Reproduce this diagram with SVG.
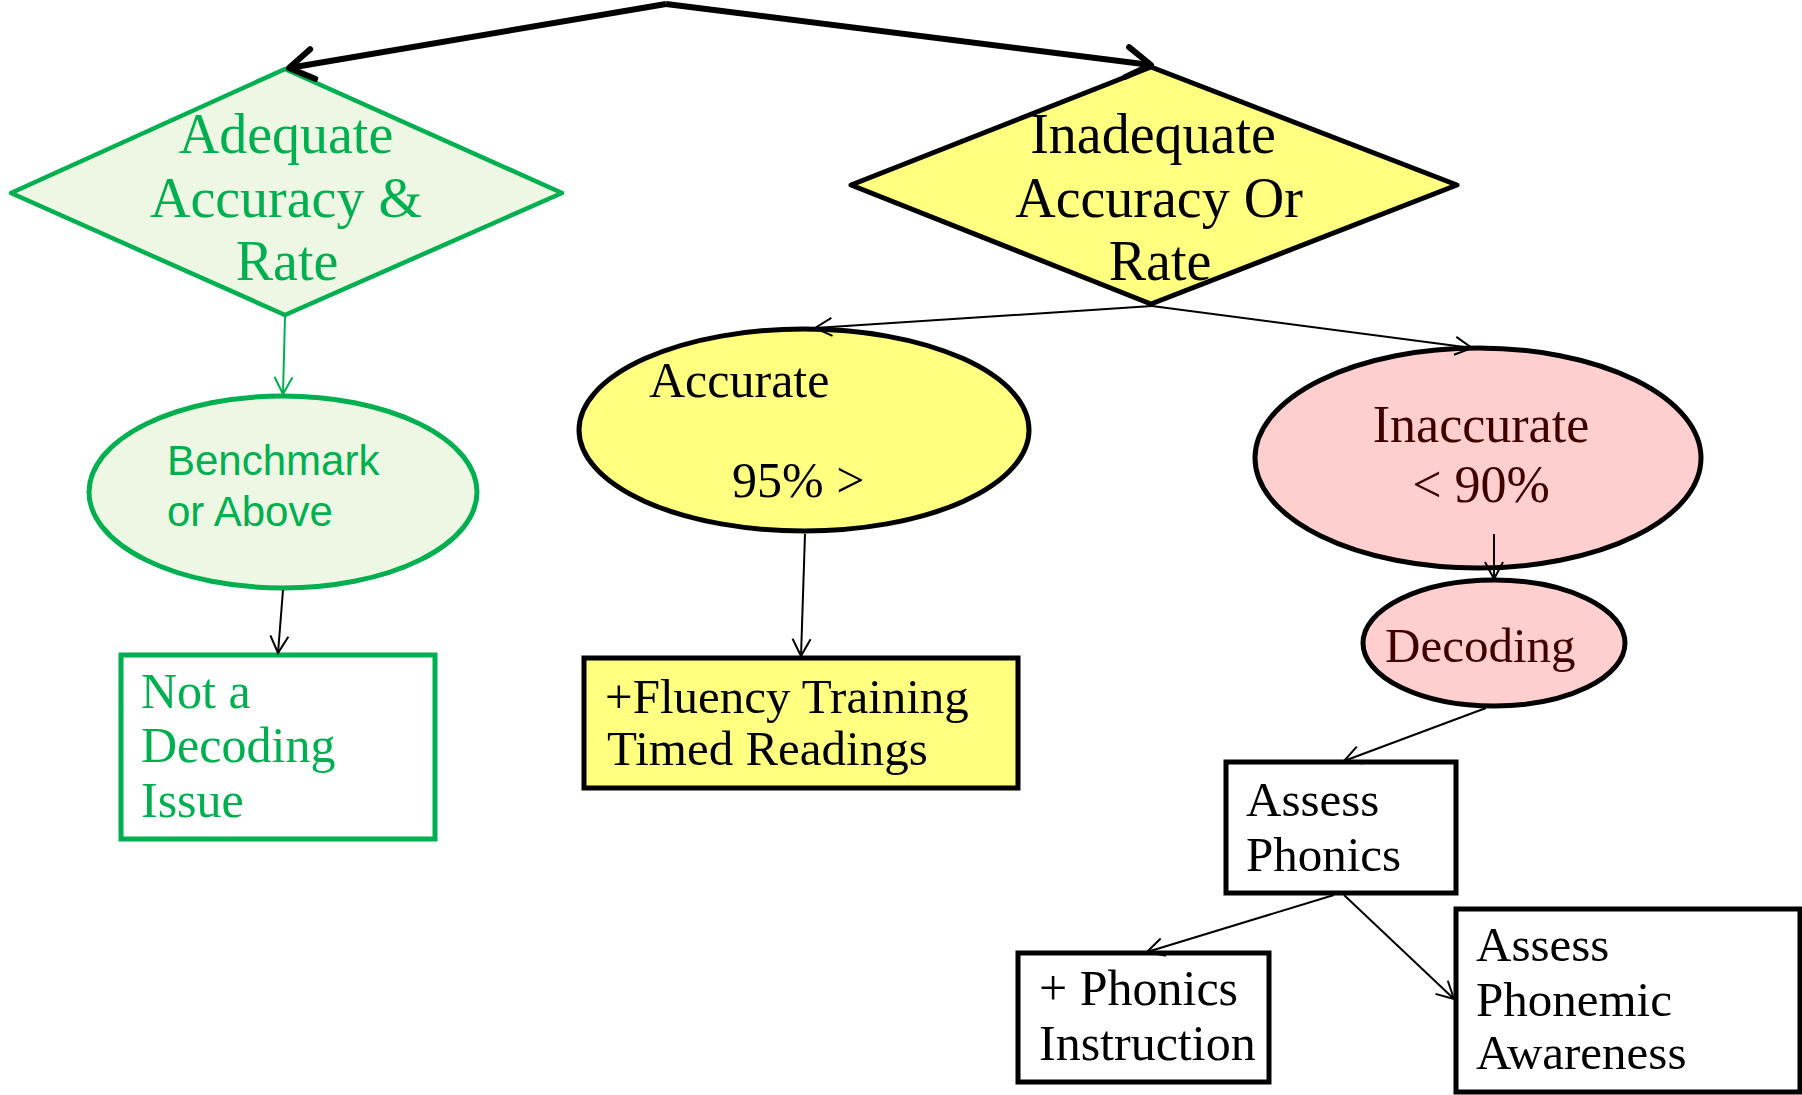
<svg xmlns="http://www.w3.org/2000/svg" width="1802" height="1095" viewBox="0 0 1802 1095">
<style>
.serif{font-family:"Liberation Serif","Times New Roman",serif;}
.sans{font-family:"Liberation Sans",Arial,sans-serif;}
.green{fill:#00B050;}
.blk{fill:#000;}
.maroon{fill:#3F0000;}
.conn{fill:none;stroke:#000;stroke-width:2;}
</style>
<defs>
<marker id="thick" markerUnits="userSpaceOnUse" viewBox="-30 -20 40 40" markerWidth="40" markerHeight="40" refX="0" refY="0" orient="auto">
<path d="M -24 -15 L 0 0 L -24 15" fill="none" stroke="#000" stroke-width="6" stroke-linecap="round" stroke-linejoin="round"/>
</marker>
<marker id="thin" markerUnits="userSpaceOnUse" viewBox="-20 -12 24 24" markerWidth="24" markerHeight="24" refX="0" refY="0" orient="auto">
<path d="M -17 -9 L 0 0 L -17 9" fill="none" stroke="#000" stroke-width="2"/>
</marker>
<marker id="thinG" markerUnits="userSpaceOnUse" viewBox="-20 -12 24 24" markerWidth="24" markerHeight="24" refX="0" refY="0" orient="auto">
<path d="M -17 -9 L 0 0 L -17 9" fill="none" stroke="#00B050" stroke-width="2"/>
</marker>
</defs>
<rect width="1802" height="1095" fill="#fff"/>

<g id="adequate">
<polygon points="11,193 285,69 562,193 285,315" fill="#EEF7E3" stroke="#00B050" stroke-width="4.5" stroke-linejoin="round"/>
<text class="serif green" font-size="56" text-anchor="middle"><tspan x="286" y="153">Adequate</tspan><tspan x="286" y="217">Accuracy &amp;</tspan><tspan x="287" y="280">Rate</tspan></text>
</g>

<g id="inadequate">
<polygon points="851,185 1151,67 1457,185 1151,304" fill="#FFFF80" stroke="#000" stroke-width="5" stroke-linejoin="round"/>
<text class="serif blk" font-size="56" text-anchor="middle"><tspan x="1153" y="153">Inadequate</tspan><tspan x="1159" y="217">Accuracy Or</tspan><tspan x="1160" y="280">Rate</tspan></text>
</g>

<g id="benchmark">
<ellipse cx="283" cy="492" rx="194" ry="96" fill="#EEF7E3" stroke="#00B050" stroke-width="5"/>
<text class="sans green" font-size="42"><tspan x="167" y="475">Benchmark</tspan><tspan x="167" y="526">or Above</tspan></text>
</g>

<g id="not-decoding">
<rect x="121" y="655" width="314" height="184" fill="#fff" stroke="#00B050" stroke-width="5"/>
<text class="serif green" font-size="50"><tspan x="141" y="708">Not a</tspan><tspan x="141" y="762">Decoding</tspan><tspan x="141" y="817">Issue</tspan></text>
</g>

<g id="accurate">
<ellipse cx="804" cy="430" rx="225" ry="101" fill="#FFFF80" stroke="#000" stroke-width="5"/>
<text class="serif blk" font-size="50"><tspan x="649" y="397">Accurate</tspan><tspan x="732" y="497">95% &gt;</tspan></text>
</g>

<g id="fluency">
<rect x="584" y="658" width="434" height="130" fill="#FFFF80" stroke="#000" stroke-width="5"/>
<text class="serif blk" font-size="49"><tspan x="605" y="713">+Fluency Training</tspan><tspan x="607" y="765">Timed Readings</tspan></text>
</g>

<g id="inaccurate">
<ellipse cx="1478" cy="458" rx="223" ry="110" fill="#FFCFCF" stroke="#000" stroke-width="5"/>
<text class="serif maroon" font-size="52" text-anchor="middle"><tspan x="1481" y="442">Inaccurate</tspan><tspan x="1481" y="502">&lt; 90%</tspan></text>
</g>

<g id="decoding">
<ellipse cx="1494" cy="643" rx="131" ry="63" fill="#FFCFCF" stroke="#000" stroke-width="5"/>
<text class="serif maroon" font-size="49"><tspan x="1385" y="662">Decoding</tspan></text>
</g>

<g id="assess-phonics">
<rect x="1226" y="762" width="230" height="131" fill="#fff" stroke="#000" stroke-width="5"/>
<text class="serif blk" font-size="49"><tspan x="1246" y="816">Assess</tspan><tspan x="1246" y="871">Phonics</tspan></text>
</g>

<g id="phonics-instruction">
<rect x="1018" y="953" width="251" height="129" fill="#fff" stroke="#000" stroke-width="5"/>
<text class="serif blk" font-size="50"><tspan x="1039" y="1005">+ Phonics</tspan><tspan x="1039" y="1060">Instruction</tspan></text>
</g>

<g id="assess-phonemic">
<rect x="1456" y="909" width="344" height="183" fill="#fff" stroke="#000" stroke-width="5"/>
<text class="serif blk" font-size="49"><tspan x="1476" y="961">Assess</tspan><tspan x="1476" y="1016">Phonemic</tspan><tspan x="1476" y="1069">Awareness</tspan></text>
</g>

<g id="connectors">
<path d="M 666 4 L 289 68" fill="none" stroke="#000" stroke-width="6" marker-end="url(#thick)"/>
<path d="M 666 4 L 1151 65" fill="none" stroke="#000" stroke-width="6" marker-end="url(#thick)"/>
<path d="M 285 316 L 283 394" fill="none" stroke="#00B050" stroke-width="2" marker-end="url(#thinG)"/>
<path d="M 283 590 L 278 653" class="conn" marker-end="url(#thin)"/>
<path d="M 1152 306 L 815 328" class="conn" marker-end="url(#thin)"/>
<path d="M 1152 306 L 1472 348" class="conn" marker-end="url(#thin)"/>
<path d="M 805 534 L 801 656" class="conn" marker-end="url(#thin)"/>
<path d="M 1494 534 L 1494 579" class="conn" marker-end="url(#thin)"/>
<path d="M 1486 708 L 1344 761" class="conn" marker-end="url(#thin)"/>
<path d="M 1334 895 L 1147 952" class="conn" marker-end="url(#thin)"/>
<path d="M 1344 895 L 1454 999" class="conn" marker-end="url(#thin)"/>
</g>
</svg>
